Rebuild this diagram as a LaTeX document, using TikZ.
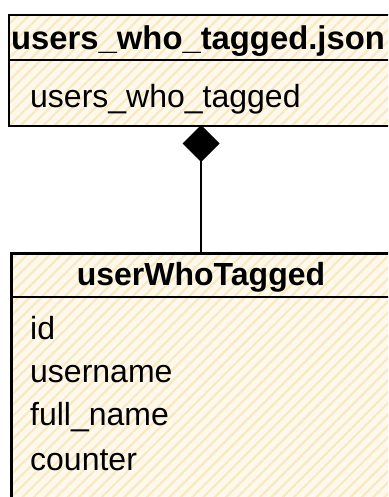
\documentclass[tikz,border=0pt]{standalone}
\usepackage{fontspec}
\setmainfont{Liberation Sans}
\usetikzlibrary{arrows.meta,patterns.meta}
\definecolor{cream}{HTML}{FFF9EC}
\definecolor{stripe}{HTML}{F9E8C4}
\tikzset{
  classbox/.style={draw=black, line width=2.6pt, rectangle, inner sep=0pt, anchor=north west,
    preaction={fill=cream}, pattern={Lines[angle=45,distance=8pt,line width=2.2pt]}, pattern color=stripe},
  hdr/.style={font=\fontsize{32}{36}\selectfont\bfseries, inner sep=0pt, anchor=base west},
  attr/.style={font=\fontsize{32}{36}\selectfont, inner sep=0pt, anchor=base west},
  divider/.style={line width=2.6pt},
  link/.style={line width=1.8pt}
}
\begin{document}
\begin{tikzpicture}[x=1pt,y=-1pt]
\useasboundingbox (0,0) rectangle (388,497);
\clip (0,0) rectangle (388,497);
\fill[white] (0,0) rectangle (388,497);
% top class
\node[classbox, minimum width=400pt, minimum height=111pt] (top) at (8,14) {};
\coordinate (tdl) at (8,60);
\coordinate (tdr) at (410,60);
\draw[divider] (tdl) -- (tdr);
\node[hdr, font=\fontsize{32.8}{36}\selectfont\bfseries] (th) at (11,50) {users\_who\_tagged.json};
\node[attr] (ta) at (30,108) {users\_who\_tagged};
% bottom class
\node[classbox, minimum width=400pt, minimum height=270pt] (bot) at (10,252) {};
\coordinate (bdl) at (10,297);
\coordinate (bdr) at (410,297);
\draw[divider] (bdl) -- (bdr);
\node[hdr, anchor=base] (bh) at (201,285) {userWhoTagged};
\node[attr] (a1) at (30,339) {id};
\node[attr] (a2) at (30,382) {username};
\node[attr] (a3) at (30,425) {full\_name};
\node[attr] (a4) at (30,470) {counter};
% composition
\coordinate (cb) at (201,252);
\coordinate (ct) at (201,125);
\draw[link, -{Diamond[length=37pt,width=37pt]}] (cb) -- (ct);
\end{tikzpicture}
\end{document}
